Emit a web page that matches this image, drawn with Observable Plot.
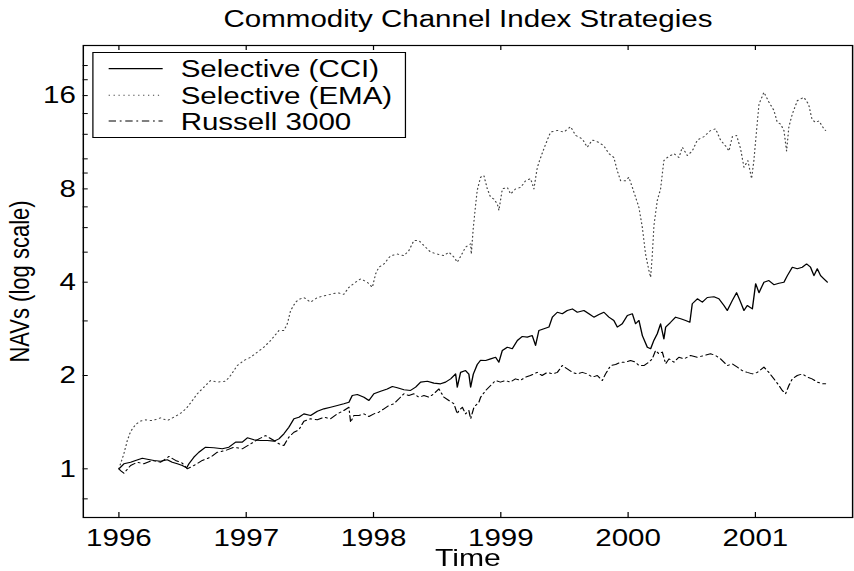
<!DOCTYPE html>
<html>
<head>
<meta charset="utf-8">
<script src="https://cdn.jsdelivr.net/npm/d3@7"></script>
<script src="https://cdn.jsdelivr.net/npm/@observablehq/plot@0.6"></script>
<style>
html, body { margin: 0; padding: 0; background: #fff; }
#wrap { position: relative; width: 694px; height: 571px; transform: scaleX(1.2305); transform-origin: 0 0; font-family: "Liberation Sans", Arial, sans-serif; }
#legend { position: absolute; left: 74.5px; top: 51.7px; width: 255px; height: 86.5px; border: 1px solid #000; background: #fff; box-sizing: border-box; }
#legend svg { position: absolute; left: -1px; top: -1px; overflow: visible; }
</style>
</head>
<body>
<div id="wrap"></div>
<script>
// ---------- text ----------
const chartTitle = "Commodity Channel Index Strategies";
const xLabel = "Time";
const yLabel = "NAVs (log scale)";
const seriesNames = ["Selective (CCI)", "Selective (EMA)", "Russell 3000"];

// ---------- ticks ----------
const xTickYears = [1996, 1997, 1998, 1999, 2000, 2001];
const yMajorTicks = [1, 2, 4, 8, 16];
const yMinorTicks = [0.8, 3, 5, 6, 7, 9, 10, 12, 14, 18, 20];

// ---------- series: [decimal year, NAV] ----------
const cciSeries = [
[1996.000,1.000],[1996.039,1.038],[1996.092,1.050],[1996.131,1.064],[1996.184,1.082],[1996.223,1.074],[1996.275,1.064],[1996.328,1.058],[1996.380,1.069],[1996.419,1.050],[1996.459,1.038],[1996.498,1.025],[1996.532,1.007],[1996.550,1.038],[1996.589,1.090],[1996.628,1.131],[1996.681,1.174],[1996.746,1.169],[1996.812,1.160],[1996.864,1.174],[1996.917,1.219],[1996.969,1.219],
[1997.009,1.259],[1997.061,1.240],[1997.113,1.234],[1997.166,1.234],[1997.218,1.228],[1997.257,1.249],[1997.296,1.297],[1997.335,1.362],[1997.375,1.450],[1997.414,1.467],[1997.453,1.504],[1997.506,1.486],[1997.559,1.534],[1997.610,1.561],[1997.663,1.580],[1997.716,1.600],[1997.767,1.621],[1997.807,1.640],[1997.833,1.723],[1997.873,1.736],[1997.925,1.702],[1997.964,1.661],
[1998.003,1.746],[1998.056,1.779],[1998.108,1.810],[1998.148,1.842],[1998.187,1.826],[1998.239,1.800],[1998.291,1.790],[1998.331,1.834],[1998.370,1.904],[1998.423,1.917],[1998.474,1.890],[1998.527,1.880],[1998.566,1.904],[1998.606,1.951],[1998.645,2.024],[1998.658,1.834],[1998.684,2.047],[1998.723,2.074],[1998.749,2.020],[1998.763,1.834],[1998.784,2.020],[1998.815,2.170],[1998.841,2.240],[1998.881,2.236],[1998.920,2.263],[1998.959,2.291],[1998.985,2.208],
[1999.012,2.409],[1999.051,2.468],[1999.090,2.440],[1999.130,2.594],[1999.169,2.673],[1999.208,2.660],[1999.247,2.690],[1999.273,2.500],[1999.299,2.794],[1999.339,2.830],[1999.378,2.866],[1999.405,3.085],[1999.444,3.200],[1999.483,3.165],[1999.522,3.241],[1999.562,3.280],[1999.601,3.200],[1999.653,3.241],[1999.692,3.165],[1999.731,3.085],[1999.771,3.145],[1999.810,3.200],[1999.849,3.085],[1999.888,3.010],[1999.915,2.866],[1999.954,2.937],[1999.994,3.125],
[2000.033,3.165],[2000.059,2.937],[2000.085,3.010],[2000.112,2.690],[2000.151,2.468],[2000.177,2.440],[2000.203,2.600],[2000.229,2.727],[2000.255,2.937],[2000.281,2.625],[2000.295,2.866],[2000.334,2.970],[2000.373,3.085],[2000.413,3.050],[2000.452,3.010],[2000.485,2.970],[2000.504,3.408],[2000.544,3.536],[2000.583,3.448],[2000.622,3.570],[2000.674,3.590],[2000.713,3.536],[2000.753,3.365],[2000.779,3.241],[2000.819,3.494],[2000.852,3.700],[2000.878,3.494],[2000.910,3.241],[2000.936,3.365],[2000.976,3.280],
[2001.002,3.956],[2001.028,3.700],[2001.067,4.000],[2001.106,4.050],[2001.145,3.927],[2001.185,3.970],[2001.224,4.000],[2001.251,4.200],[2001.290,4.470],[2001.329,4.420],[2001.368,4.470],[2001.402,4.580],[2001.433,4.470],[2001.460,4.200],[2001.486,4.420],[2001.512,4.200],[2001.538,4.100],[2001.565,4.000]
];

const emaSeries = [
[1996.000,1.000],[1996.039,1.118],[1996.066,1.234],[1996.092,1.320],[1996.131,1.390],[1996.170,1.425],[1996.210,1.439],[1996.262,1.430],[1996.328,1.460],[1996.380,1.431],[1996.445,1.477],[1996.498,1.523],[1996.537,1.580],[1996.577,1.661],[1996.616,1.746],[1996.668,1.834],[1996.720,1.927],[1996.773,1.904],[1996.838,1.917],[1996.877,2.000],[1996.930,2.154],[1996.982,2.236],
[1997.035,2.291],[1997.087,2.378],[1997.139,2.468],[1997.192,2.594],[1997.257,2.794],[1997.296,2.794],[1997.323,2.937],[1997.349,3.242],[1997.388,3.448],[1997.414,3.520],[1997.453,3.570],[1997.506,3.448],[1997.559,3.570],[1997.610,3.613],[1997.663,3.656],[1997.716,3.700],[1997.767,3.656],[1997.807,3.850],[1997.859,4.000],[1997.899,4.100],[1997.951,4.000],[1997.991,3.850],
[1998.017,4.260],[1998.042,4.470],[1998.082,4.580],[1998.134,4.870],[1998.187,4.930],[1998.239,4.870],[1998.278,5.060],[1998.317,5.450],[1998.357,5.450],[1998.396,5.250],[1998.449,5.000],[1998.501,4.930],[1998.553,4.870],[1998.592,5.000],[1998.632,4.820],[1998.658,4.640],[1998.684,4.840],[1998.723,5.190],[1998.763,5.320],[1998.768,4.930],[1998.784,6.000],[1998.802,7.100],[1998.815,7.930],[1998.841,8.720],[1998.867,8.840],[1998.894,8.000],[1998.920,7.520],[1998.946,7.420],[1998.973,7.140],[1998.985,6.820],
[1999.012,8.000],[1999.051,8.090],[1999.077,7.700],[1999.116,8.000],[1999.156,8.090],[1999.195,8.500],[1999.234,8.630],[1999.260,8.000],[1999.287,9.400],[1999.313,10.100],[1999.352,11.150],[1999.391,12.200],[1999.444,12.350],[1999.496,12.200],[1999.548,12.700],[1999.588,11.900],[1999.640,11.600],[1999.679,10.900],[1999.719,11.500],[1999.771,11.300],[1999.810,11.000],[1999.849,10.400],[1999.888,10.100],[1999.915,9.150],[1999.941,8.500],[1999.980,8.500],
[2000.006,8.720],[2000.033,8.090],[2000.059,7.520],[2000.085,6.970],[2000.112,6.000],[2000.137,4.930],[2000.163,4.370],[2000.177,4.150],[2000.190,4.900],[2000.203,6.100],[2000.229,7.330],[2000.255,8.000],[2000.281,9.870],[2000.308,10.100],[2000.360,10.400],[2000.399,10.100],[2000.426,10.900],[2000.465,10.250],[2000.504,10.600],[2000.544,11.500],[2000.596,11.800],[2000.648,12.350],[2000.687,12.500],[2000.726,11.500],[2000.766,11.000],[2000.792,10.600],[2000.819,11.800],[2000.852,11.900],[2000.883,10.800],[2000.910,9.400],[2000.941,9.870],[2000.970,8.630],[2000.988,9.870],
[2001.009,12.350],[2001.028,15.000],[2001.067,16.400],[2001.106,15.250],[2001.145,14.350],[2001.172,13.100],[2001.198,12.950],[2001.224,12.350],[2001.245,10.600],[2001.263,12.700],[2001.290,13.950],[2001.329,15.400],[2001.381,15.800],[2001.418,15.000],[2001.445,13.400],[2001.471,13.100],[2001.499,13.250],[2001.538,12.500],[2001.551,12.350]
];

const russellSeries = [
[1996.000,1.000],[1996.013,0.987],[1996.039,0.968],[1996.092,1.025],[1996.145,1.050],[1996.196,1.038],[1996.262,1.064],[1996.328,1.050],[1996.393,1.096],[1996.445,1.064],[1996.498,1.043],[1996.537,1.000],[1996.589,1.025],[1996.655,1.064],[1996.720,1.090],[1996.773,1.131],[1996.838,1.146],[1996.903,1.174],[1996.969,1.160],
[1997.035,1.204],[1997.100,1.249],[1997.152,1.280],[1997.218,1.234],[1997.257,1.204],[1997.296,1.189],[1997.335,1.265],[1997.375,1.312],[1997.414,1.336],[1997.453,1.424],[1997.506,1.450],[1997.559,1.439],[1997.610,1.467],[1997.663,1.450],[1997.716,1.504],[1997.767,1.542],[1997.807,1.580],[1997.820,1.413],[1997.846,1.486],[1997.885,1.486],[1997.925,1.504],[1997.964,1.475],
[1998.003,1.504],[1998.042,1.523],[1998.082,1.561],[1998.121,1.600],[1998.160,1.621],[1998.200,1.683],[1998.239,1.746],[1998.278,1.723],[1998.317,1.746],[1998.357,1.702],[1998.396,1.723],[1998.435,1.702],[1998.474,1.746],[1998.514,1.810],[1998.553,1.702],[1998.592,1.661],[1998.632,1.621],[1998.658,1.504],[1998.671,1.542],[1998.698,1.580],[1998.723,1.504],[1998.749,1.542],[1998.763,1.450],[1998.789,1.580],[1998.828,1.640],[1998.841,1.700],[1998.881,1.790],[1998.920,1.857],[1998.959,1.927],[1998.997,1.904],
[1999.036,1.927],[1999.075,1.904],[1999.115,1.951],[1999.154,1.927],[1999.193,1.976],[1999.232,2.000],[1999.285,2.047],[1999.324,2.000],[1999.365,2.047],[1999.405,2.024],[1999.444,2.047],[1999.483,2.154],[1999.522,2.100],[1999.562,2.047],[1999.601,2.024],[1999.640,2.047],[1999.679,2.024],[1999.719,1.976],[1999.758,2.000],[1999.797,1.927],[1999.823,2.024],[1999.863,2.154],[1999.902,2.170],[1999.941,2.208],[1999.980,2.208],
[2000.019,2.236],[2000.059,2.208],[2000.085,2.154],[2000.124,2.154],[2000.163,2.208],[2000.190,2.263],[2000.216,2.409],[2000.242,2.350],[2000.269,2.380],[2000.295,2.181],[2000.321,2.263],[2000.360,2.208],[2000.399,2.291],[2000.438,2.263],[2000.491,2.320],[2000.544,2.291],[2000.596,2.320],[2000.648,2.350],[2000.687,2.320],[2000.726,2.263],[2000.779,2.154],[2000.819,2.181],[2000.858,2.128],[2000.897,2.074],[2000.936,2.047],[2000.976,2.024],
[2001.015,2.047],[2001.067,2.128],[2001.106,2.047],[2001.145,1.951],[2001.185,1.857],[2001.211,1.790],[2001.237,1.746],[2001.263,1.857],[2001.290,1.951],[2001.329,2.000],[2001.368,2.024],[2001.408,1.976],[2001.445,1.951],[2001.486,1.904],[2001.526,1.880],[2001.551,1.880]
];

// ---------- styles ----------
const FONT = "Liberation Sans, Arial, Helvetica, sans-serif";
const lineStyles = [
  {stroke: "#000", strokeWidth: 1.1, strokeDasharray: null},
  {stroke: "#444", strokeWidth: 1, strokeDasharray: "1,3"},
  {stroke: "#000", strokeWidth: 1, strokeDasharray: "6,3,1.5,3"}
];
const allSeries = [cciSeries, emaSeries, russellSeries];

const W = 694, H = 571;
const mL = 67.2, mR = 1.6, mT = 45, mB = 54;
const frameW = W - mL - mR, frameH = H - mT - mB;
const tickLenX = 5, tickLenY = 4.1;

const chart = Plot.plot({
  width: W,
  height: H,
  marginLeft: mL,
  marginRight: mR,
  marginTop: mT,
  marginBottom: mB,
  style: {fontFamily: FONT, fontSize: "24px", background: "#fff", color: "#000", overflow: "visible"},
  x: {domain: [1995.7203, 2001.7636], axis: null},
  y: {type: "log", domain: [0.6965, 23.21], axis: null},
  marks: [
    ...allSeries.map((s, i) => Plot.line(s, {x: d => d[0], y: d => d[1], ...lineStyles[i], strokeLinejoin: "round"})),
    Plot.frame({stroke: "#000", strokeWidth: 1.2}),
    // inward ticks (bottom, top, left)
    Plot.tickX(xTickYears, {x: d => d, insetTop: frameH - tickLenX, stroke: "#000"}),
    Plot.tickX(xTickYears, {x: d => d, insetBottom: frameH - tickLenX, stroke: "#000"}),
    Plot.tickY(yMajorTicks.concat(yMinorTicks), {y: d => d, insetRight: frameW - tickLenY, stroke: "#000"}),
    // tick labels
    Plot.text(xTickYears, {x: d => d, frameAnchor: "bottom", dy: 11, lineAnchor: "top", textAnchor: "middle", text: d => String(d), fontSize: 24}),
    Plot.text(yMajorTicks, {y: d => d, frameAnchor: "left", dx: -6, lineAnchor: "middle", textAnchor: "end", text: d => String(d), fontSize: 24}),
    // titles
    Plot.text([chartTitle], {frameAnchor: "top", dy: -19, lineAnchor: "bottom", textAnchor: "middle", text: d => d, fontSize: 24}),
    Plot.text([xLabel], {frameAnchor: "bottom", dy: 48.5, lineAnchor: "bottom", textAnchor: "middle", text: d => d, fontSize: 24.5}),
    Plot.text([yLabel], {frameAnchor: "left", dx: -44.5, rotate: -90, lineAnchor: "bottom", textAnchor: "middle", text: d => d, fontSize: 22})
  ]
});

const wrap = document.getElementById("wrap");
wrap.appendChild(chart);

// ---------- legend (inside the axes, top-left) ----------
const legend = document.createElement("div");
legend.id = "legend";
const ns = "http://www.w3.org/2000/svg";
const lsvg = document.createElementNS(ns, "svg");
lsvg.setAttribute("width", 255);
lsvg.setAttribute("height", 87);
const rowLineY = [16.6, 43.3, 69.0];
const rowTextY = [25.0, 51.6, 78.3];
seriesNames.forEach((name, i) => {
  const ln = document.createElementNS(ns, "line");
  ln.setAttribute("x1", 13.3); ln.setAttribute("x2", 57.2);
  ln.setAttribute("y1", rowLineY[i]); ln.setAttribute("y2", rowLineY[i]);
  ln.setAttribute("stroke", lineStyles[i].stroke);
  ln.setAttribute("stroke-width", lineStyles[i].strokeWidth);
  if (lineStyles[i].strokeDasharray) ln.setAttribute("stroke-dasharray", lineStyles[i].strokeDasharray);
  lsvg.appendChild(ln);
  const tx = document.createElementNS(ns, "text");
  tx.setAttribute("x", 71.8);
  tx.setAttribute("y", rowTextY[i]);
  tx.setAttribute("font-family", FONT);
  tx.setAttribute("font-size", 24);
  tx.setAttribute("fill", "#000");
  tx.textContent = name;
  lsvg.appendChild(tx);
});
legend.appendChild(lsvg);
wrap.appendChild(legend);
</script>
</body>
</html>
